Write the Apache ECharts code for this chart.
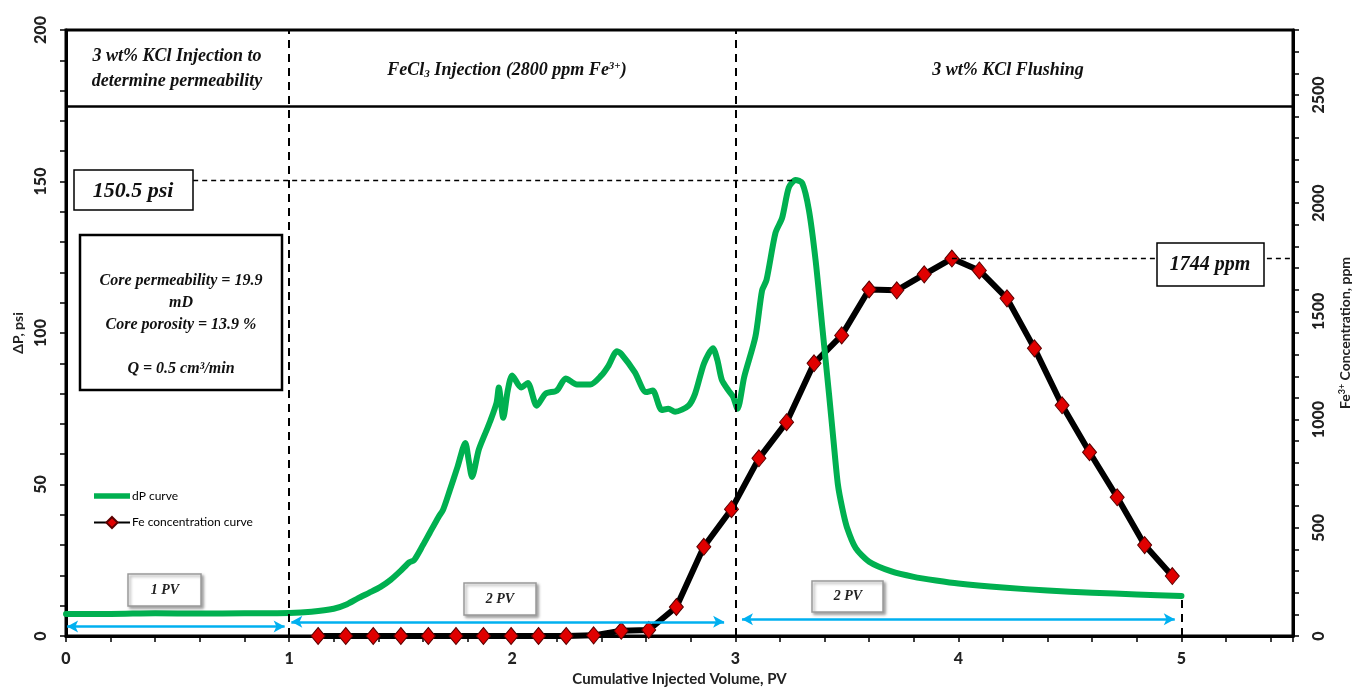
<!DOCTYPE html>
<html>
<head>
<meta charset="utf-8">
<script src="https://cdn.jsdelivr.net/npm/echarts@6/dist/echarts.min.js"></script>
<style>
html,body{margin:0;padding:0;background:#fff;}
#chart{width:1354px;height:690px;}
</style>
</head>
<body>
<div id="chart"></div>
<script>
// ---------- data ----------
const dpPV = [0,0.2,0.4,0.6,0.8,1.0,1.1,1.2,1.26,1.31,1.36,1.41,1.455,1.5,1.54,1.56,1.6,1.63,1.67,1.69,1.72,1.755,1.79,1.805,1.82,1.85,1.88,1.90,1.93,1.94,1.96,1.98,2.00,2.04,2.07,2.11,2.15,2.20,2.24,2.29,2.35,2.40,2.43,2.47,2.49,2.55,2.60,2.63,2.67,2.70,2.73,2.79,2.82,2.86,2.90,2.92,2.94,2.97,2.99,3.01,3.04,3.09,3.12,3.14,3.18,3.21,3.24,3.27,3.30,3.33,3.36,3.39,3.42,3.44,3.46,3.48,3.50,3.54,3.60,3.70,3.80,3.90,4.00,4.20,4.40,4.60,4.80,5.00];
const dpPsi = [7.3,7.3,7.5,7.4,7.5,7.6,8.0,9.0,10.5,12.5,14.3,16.2,18.5,21.5,24.4,25,30,34,39.3,41.6,48,55.8,63.7,58,52.5,61.4,67,70.6,77,82,72,81,86,82,83.5,76,80,81,85,83,83,86,89,94,93,87,80.5,81,74.6,75,74,76,80,90,95,91,84.5,81,79,75,85.5,98.7,114,117.5,133,138,148,150.5,149.5,140.6,124,102,80,64.7,50,42,36,29,24.5,21.3,19.5,18.3,17.3,16,15,14.3,13.7,13.2];
const fePV = [1.130,1.254,1.377,1.501,1.624,1.748,1.871,1.995,2.118,2.242,2.365,2.489,2.612,2.736,2.859,2.983,3.106,3.230,3.353,3.477,3.600,3.724,3.847,3.971,4.094,4.218,4.341,4.465,4.588,4.712,4.835,4.959];
const fePpm = [0,0,0,0,0,0,0,0,0,0,3,24,28,134,412,586,821,988,1260,1389,1601,1597,1671,1744,1689,1560,1329,1066,849,641,420,277];
const xTickLabels = ['0','1','2','3','4','5'];
const phaseTexts = ['3 wt% KCl Injection to\ndetermine permeability','{b|FeCl}{sub|3}{b| Injection (2800 ppm Fe}{sup|3+}{b|)}','3 wt% KCl Flushing'];
const peakDp = 150.5, peakFe = 1744;

// ---------- chart ----------
const chart = echarts.init(document.getElementById('chart'), null, {renderer:'canvas'});
const serifBI = {fontFamily:'Liberation Serif', fontStyle:'italic', fontWeight:'bold', fill:'#111'};
const tickLabel = {fontFamily:'Lato', fontWeight:900, fontSize:16, color:'#222'};
const isMul = (v, m) => Math.abs(v/m - Math.round(v/m)) < 1e-6;

const dashBlack = {color:'#000', type:[8,6], width:2};
const cyan = {color:'#00b0f0', type:'solid', width:2.5};

function box(x, y, w, h, style, z){
  return {type:'rect', shape:{x:x, y:y, width:w, height:h}, style:Object.assign({fill:'#fff', stroke:'#000', lineWidth:1.5}, style||{}), z: z||100};
}
function txt(x, y, text, fs, extra){
  return {type:'text', x:x, y:y, z:101, style:Object.assign({}, serifBI, {text:text, fontSize:fs, align:'center', verticalAlign:'middle'}, extra||{})};
}
const pvBoxStyle = {stroke:'#9a9a9a', lineWidth:1.5, shadowBlur:3, shadowColor:'rgba(0,0,0,0.35)', shadowOffsetX:2, shadowOffsetY:2};
const pvTxt = {fontWeight:'bold', fill:'#222'};

const option = {
  backgroundColor:'#fff',
  animation:false,
  grid:{left:66, right:61, top:30, bottom:54, show:true, borderColor:'#000', borderWidth:3, backgroundColor:'transparent', containLabel:false, outerBoundsMode:'none'},
  legend:{
    orient:'vertical', left:88, top:485, itemWidth:36, itemHeight:14, itemGap:14,
    data:[{name:'dP curve', icon:'path://M0,0 L72,0 L72,11 L0,11 Z'}, 'Fe concentration curve'],
    textStyle:{fontFamily:'Lato', fontSize:12, color:'#000', padding:[0,0,0,-3]}
  },
  xAxis:{
    type:'value', min:0, max:5.5, interval:0.2,
    name:'Cumulative Injected Volume, PV', nameLocation:'middle', nameGap:36,
    nameTextStyle:{fontFamily:'Lato', fontWeight:'bold', fontSize:15, color:'#222'},
    axisLine:{show:true, lineStyle:{color:'#000', width:3}},
    axisTick:{show:true, length:6, lineStyle:{color:'#000', width:1.5}},
    axisLabel:Object.assign({}, tickLabel, {margin:15, formatter:v => isMul(v,1) ? xTickLabels[Math.round(v)] || '' : ''}),
    splitLine:{show:false}
  },
  yAxis:[
    {
      type:'value', min:0, max:200, interval:10, position:'left',
      name:'ΔP, psi', nameLocation:'middle', nameGap:38, nameRotate:90,
      nameTextStyle:{fontFamily:'Lato', fontWeight:'bold', fontSize:14, color:'#222'},
      axisLine:{show:true, lineStyle:{color:'#000', width:3}},
      axisTick:{show:true, length:6, lineStyle:{color:'#000', width:1.5}},
      axisLabel:Object.assign({}, tickLabel, {rotate:90, margin:17, formatter:v => isMul(v,50) ? String(v) : ''}),
      splitLine:{show:false}
    },
    {
      type:'value', min:0, max:2800, interval:100, position:'right',
      name:'{a|Fe}{s|3+}{a| Concentration, ppm}', nameLocation:'middle', nameGap:45, nameRotate:90,
      nameTextStyle:{rich:{
        a:{fontFamily:'Lato', fontWeight:'bold', fontSize:14, color:'#222'},
        s:{fontFamily:'Lato', fontWeight:'bold', fontSize:9, color:'#222', verticalAlign:'top', padding:[0,0,6,0]}
      }},
      axisLine:{show:true, lineStyle:{color:'#000', width:3}},
      axisTick:{show:true, length:6, lineStyle:{color:'#000', width:1.5}},
      axisLabel:Object.assign({}, tickLabel, {rotate:90, margin:18, formatter:v => isMul(v,500) ? String(v) : ''}),
      splitLine:{show:false}
    }
  ],
  series:[
    {
      name:'Fe concentration curve', type:'line', yAxisIndex:1, z:3,
      data:fePV.map((x,i)=>[x, fePpm[i]]),
      symbol:'diamond', symbolSize:[14,17], showSymbol:true,
      lineStyle:{color:'#000', width:6, join:'round'},
      itemStyle:{color:'#e00000', borderColor:'#5a0000', borderWidth:1},
      markLine:{
        silent:true, symbol:'none', label:{show:false},
        data:[[{coord:[fePV[fePpm.indexOf(peakFe)], peakFe], lineStyle:{color:'#000', type:[5,4], width:1.3}},{coord:[5.5, peakFe]}]]
      }
    },
    {
      name:'dP curve', type:'line', yAxisIndex:0, z:4,
      data:dpPV.map((x,i)=>[x, dpPsi[i]]),
      symbol:'none', smooth:0.25,
      lineStyle:{color:'#00b050', width:6, cap:'round', join:'round'},
      itemStyle:{color:'#00b050'},
      markLine:{
        silent:true, symbol:'none', label:{show:false}, z:5,
        data:[
          [{coord:[0,175], lineStyle:{color:'#000', type:'solid', width:2.5}},{coord:[5.5,175]}],
          [{coord:[1,0], lineStyle:dashBlack},{coord:[1,200]}],
          [{coord:[3,0], lineStyle:dashBlack},{coord:[3,200]}],
          [{coord:[5,0], lineStyle:dashBlack},{coord:[5,13.2]}],
          [{coord:[0.57,peakDp], lineStyle:{color:'#000', type:[5,4], width:1.3}},{coord:[3.26,peakDp]}],
          [{coord:[0.005,3.1], symbol:'arrow', lineStyle:cyan},{coord:[0.98,3.1], symbol:'arrow'}],
          [{coord:[1.01,4.7], symbol:'arrow', lineStyle:cyan},{coord:[2.95,4.7], symbol:'arrow'}],
          [{coord:[3.03,5.5], symbol:'arrow', lineStyle:cyan},{coord:[4.97,5.5], symbol:'arrow'}]
        ],
        symbolSize:[9,11]
      }
    }
  ],
  graphic:[
    txt(177, 69, phaseTexts[0], 18, {lineHeight:25}),
    txt(507, 70, phaseTexts[1], 18, {rich:{
      b:Object.assign({}, serifBI, {fontSize:18}),
      sub:Object.assign({}, serifBI, {fontSize:11, verticalAlign:'bottom', padding:[8,0,0,0]}),
      sup:Object.assign({}, serifBI, {fontSize:11, verticalAlign:'top', padding:[0,0,8,0]})
    }}),
    txt(1008, 70, phaseTexts[2], 18),
    box(74, 170, 119, 40, {lineWidth:1.5}),
    txt(133, 191, '150.5 psi', 22),
    box(80, 235, 202, 155, {lineWidth:2.5}),
    txt(181, 325, 'Core permeability = 19.9\nmD\nCore porosity = 13.9 %\n\nQ = 0.5 cm³/min', 16, {lineHeight:22}),
    box(1157, 243, 107, 43, {lineWidth:1.5}),
    txt(1210, 265, '1744 ppm', 20),
    box(128, 574, 73, 32, pvBoxStyle),
    txt(165, 590, '1 PV', 14, pvTxt),
    box(464, 583, 72, 32, pvBoxStyle),
    txt(500, 599, '2 PV', 14, pvTxt),
    box(812, 581, 71, 31, pvBoxStyle),
    txt(848, 596, '2 PV', 14, pvTxt)
  ]
};
chart.setOption(option);
</script>
</body>
</html>
